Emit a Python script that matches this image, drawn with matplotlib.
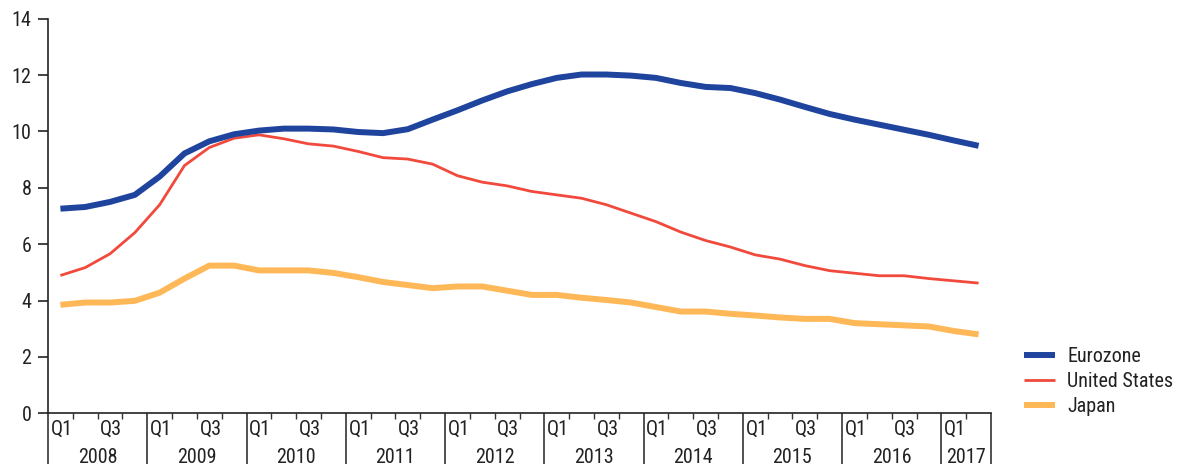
import matplotlib
matplotlib.use("Agg")
import matplotlib.pyplot as plt
import matplotlib.transforms as mtransforms
from matplotlib import font_manager as fm
import numpy as np

# ---------------- data ----------------
years = ["2008", "2009", "2010", "2011", "2012", "2013", "2014", "2015", "2016", "2017"]
quarter_labels = ["Q1", "Q2", "Q3", "Q4"]
shown_quarters = ["Q1", "Q3"]

eurozone = [7.26, 7.32, 7.50, 7.75,
            8.40, 9.22, 9.65, 9.90,
            10.03, 10.10, 10.10, 10.07,
            9.98, 9.94, 10.08, 10.42,
            10.75, 11.10, 11.42, 11.68,
            11.90, 12.02, 12.02, 11.98,
            11.90, 11.72, 11.58, 11.54,
            11.36, 11.13, 10.87, 10.62,
            10.42, 10.24, 10.06, 9.88,
            9.68, 9.49]

united_states = [4.89, 5.17, 5.66, 6.41,
                 7.40, 8.79, 9.43, 9.76,
                 9.88, 9.74, 9.56, 9.48,
                 9.29, 9.07, 9.02, 8.84,
                 8.43, 8.20, 8.07, 7.87,
                 7.75, 7.63, 7.40, 7.10,
                 6.80, 6.43, 6.13, 5.90,
                 5.62, 5.47, 5.24, 5.06,
                 4.97, 4.88, 4.88, 4.78,
                 4.70, 4.62]

japan = [3.85, 3.93, 3.93, 3.99,
         4.28, 4.78, 5.24, 5.24,
         5.07, 5.07, 5.07, 4.98,
         4.83, 4.66, 4.55, 4.44,
         4.50, 4.50, 4.35, 4.20,
         4.20, 4.10, 4.02, 3.93,
         3.77, 3.61, 3.61, 3.53,
         3.47, 3.40, 3.35, 3.35,
         3.20, 3.16, 3.12, 3.08,
         2.92, 2.80]

series_names = ["Eurozone", "United States", "Japan"]
y_ticks = [0, 2, 4, 6, 8, 10, 12, 14]

# ---------------- font ----------------
names = {f.name for f in fm.fontManager.ttflist}
family = None
for cand in ["Roboto Condensed", "Liberation Sans Narrow", "Open Sans Condensed", "Arial Narrow"]:
    if cand in names:
        family = cand
        break
if family is None:
    for f in fm.fontManager.ttflist:
        fn = f.fname.lower()
        if ("condensed" in fn or "narrow" in fn) and "bold" not in fn and "oblique" not in fn and "italic" not in fn and "mono" not in fn and "serif" not in fn:
            fm.fontManager.addfont(f.fname)
            family = fm.FontProperties(fname=f.fname).get_name()
            break
if family is None:
    family = "Roboto"
plt.rcParams["font.family"] = [family, "DejaVu Sans"]

FS = 14.5

# ---------------- figure ----------------
fig = plt.figure(figsize=(11.83, 4.68), dpi=100)
W, H = 1183, 468
ax = fig.add_axes([48 / W, 1 - 413.3 / H, (991 - 48) / W, (413.3 - 18.7) / H])

n = len(eurozone)
x = np.arange(n)

c_eu = "#1f449e"
c_us = "#f14a3d"
c_jp = "#feb858"

ax.plot(x, eurozone, color=c_eu, lw=4.3, solid_capstyle="butt", label=series_names[0], zorder=3)
ax.plot(x, united_states, color=c_us, lw=2.0, solid_capstyle="butt", label=series_names[1], zorder=2)
ax.plot(x, japan, color=c_jp, lw=4.3, solid_capstyle="butt", label=series_names[2], zorder=2)

ax.set_xlim(-0.5, n - 0.5)
ax.set_ylim(0, 14)
ax.set_yticks(y_ticks)
ax.set_yticklabels([str(v) for v in y_ticks], fontsize=FS)

for s in ["top", "right"]:
    ax.spines[s].set_visible(False)
ax.spines["left"].set_linewidth(1.2)
ax.spines["bottom"].set_linewidth(1.2)
ax.spines["left"].set_color("#222222")
ax.spines["bottom"].set_color("#222222")

ax.tick_params(axis="y", direction="out", length=7, width=1.2, color="#222222", pad=5, labelcolor="#222222")

# x ticks: year boundaries (major, long) and quarter boundaries (minor, short)
year_bounds = [-0.5 + 4 * k for k in range(len(years))] + [n - 0.5]
quarter_bounds = [b for b in np.arange(-0.5, n - 0.5, 1.0) if (b + 0.5) % 4 != 0]
ax.set_xticks(year_bounds)
ax.set_xticklabels([])
ax.set_xticks(quarter_bounds, minor=True)
ax.tick_params(axis="x", which="major", direction="out", length=37, width=1.2, color="#333333")
ax.tick_params(axis="x", which="minor", direction="out", length=4.5, width=1.0, color="#333333")

trans = mtransforms.blended_transform_factory(ax.transData, ax.transAxes)
px = 1.0 / (413.3 - 18.7)
for i in range(n):
    q = quarter_labels[i % 4]
    if q in shown_quarters:
        ax.text(i + 0.05, -16 * px, q, transform=trans, ha="center", va="center",
                fontsize=FS, color="#222222")
for k, yr in enumerate(years):
    start = 4 * k - 0.5
    end = min(4 * k + 3.5, n - 0.5)
    ax.text((start + end) / 2, -44 * px, yr, transform=trans, ha="center", va="center",
            fontsize=FS, color="#222222")

leg = fig.legend(loc="upper left", bbox_to_anchor=(1024 / W, 1 - 347 / H), frameon=False,
                 fontsize=FS, handlelength=1.55, handletextpad=0.6, labelspacing=0.3,
                 borderpad=0, borderaxespad=0)
for t in leg.get_texts():
    t.set_color("#222222")

fig.savefig("out.png", dpi=100)
